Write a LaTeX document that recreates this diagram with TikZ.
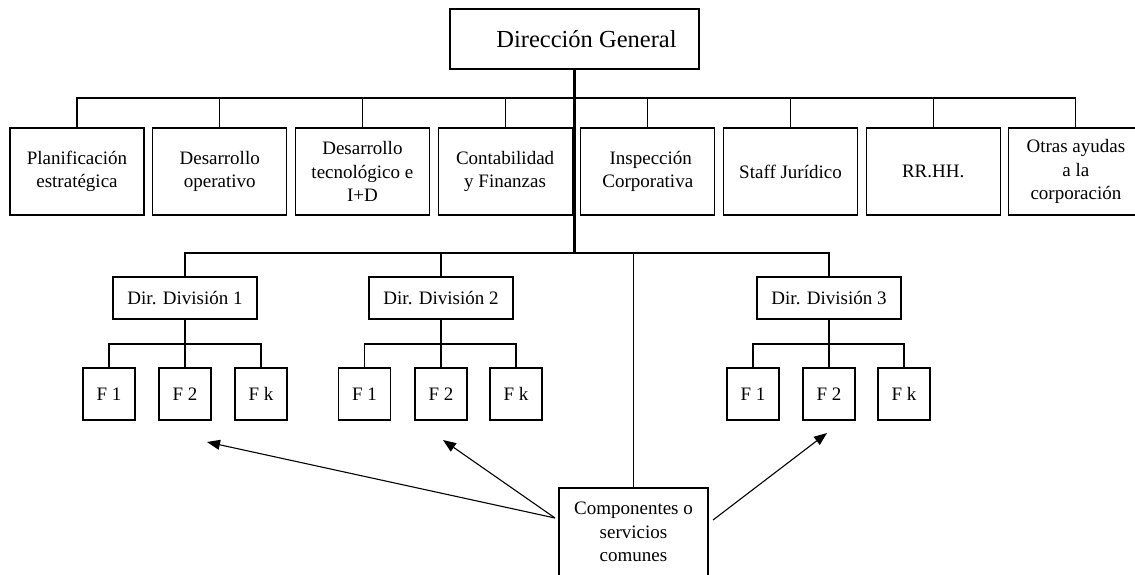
\documentclass[tikz,border=0pt]{standalone}
\usepackage{fontspec}
\setmainfont{Liberation Serif}
\usetikzlibrary{arrows.meta}
\begin{document}
\begin{tikzpicture}[x=1pt,y=-1pt,
  box/.style={draw, line width=1.1pt, inner sep=0pt, align=center, font=\fontsize{19}{23.5}\selectfont},
  topbox/.style={box, minimum width=134pt, minimum height=87pt},
  divbox/.style={box, minimum width=144pt, minimum height=42pt},
  fbox/.style={box, minimum width=52pt, minimum height=52pt},
  conn/.style={line width=1.1pt},
  trunk/.style={line width=2.6pt},
  trunkb/.style={line width=2pt},
  arr/.style={line width=1.1pt, -{Triangle[length=13pt,width=10pt]}}
]
\useasboundingbox (0,0) rectangle (1135,574);
% top box
\node[box, minimum width=249pt, minimum height=60pt, font=\fontsize{24.5}{28}\selectfont] (dg) at (574.5,39) {\hspace*{24pt}Dirección General};
% staff row
\node[topbox] (p1) at (77,171.5) {Planificación\\estratégica};
\node[topbox] (p2) at (219.7,171.5) {Desarrollo\\operativo};
\node[topbox] (p3) at (362.4,171.5) {Desarrollo\\tecnológico e\\I+D};
\node[topbox] (p4) at (505.1,171.5) {Contabilidad\\y Finanzas};
\node[topbox] (p5) at (647.8,171.5) {\hspace*{6pt}Inspección\\Corporativa};
\node[topbox] (p6) at (790.5,171.5) {Staff Jurídico};
\node[topbox] (p7) at (933.2,171.5) {RR.HH.};
\node[topbox] (p8) at (1075.9,171.5) {Otras ayudas\\a la\\corporación};
% divisions
\node[divbox] (d1) at (185,298) {Dir. División 1};
\node[divbox] (d2) at (441,298) {Dir. División 2};
\node[divbox] (d3) at (829,298) {Dir. División 3};
% functions
\node[fbox] (f11) at (109,394) {F 1};
\node[fbox] (f12) at (185,394) {F 2};
\node[fbox] (f13) at (261,394) {F k};
\node[fbox] (f21) at (364.5,394) {F 1};
\node[fbox] (f22) at (441,394) {F 2};
\node[fbox] (f23) at (516,394) {F k};
\node[fbox] (f31) at (753,394) {F 1};
\node[fbox] (f32) at (829,394) {F 2};
\node[fbox] (f33) at (904,394) {F k};
% common services
\node[box, minimum width=149pt, minimum height=88pt] (comp) at (633.5,532) {Componentes o\\servicios\\comunes};
% bus coordinates
\coordinate (bus1) at (574.5,98);
\coordinate (bus2) at (574.5,253);
\coordinate (fb1) at (185,344);
\coordinate (fb2) at (441,344);
\coordinate (fb3) at (829,344);
% top bus
\draw[conn] (p1.north) |- (bus1) -| (p8.north);
\foreach \p in {p2,p3,p4,p5,p6,p7}{\draw[conn] (\p.north) -- (\p.north |- bus1);}
\draw[trunk] (dg.south) -- (bus2);
% division bus
\draw[conn] (d1.north) |- (bus2) -| (d3.north);
\draw[trunkb] (d2.north |- bus2) -- (bus2);
\draw[conn] (d2.north) -- (d2.north |- bus2);
\draw[conn] (comp.north) -- (comp.north |- bus2);
% function buses
\draw[conn] (f11.north) |- (fb1) -| (f13.north);
\draw[conn] (f12.north) -- (fb1);
\draw[trunkb] (d1.south) -- (fb1);
\draw[conn] (f21.north) |- (fb2) -| (f23.north);
\draw[conn] (f22.north) -- (fb2);
\draw[trunkb] (d2.south) -- (fb2);
\draw[conn] (f31.north) |- (fb3) -| (f33.north);
\draw[conn] (f32.north) -- (fb3);
\draw[trunkb] (d3.south) -- (fb3);
% arrows
\coordinate (s1) at (555,518);
\coordinate (s3) at (713,520);
\coordinate (t1) at (207,442);
\coordinate (t2) at (443,440);
\coordinate (t3) at (827,433);
\draw[arr] (s1) -- (t1);
\draw[arr] (s1) -- (t2);
\draw[arr] (s3) -- (t3);
\end{tikzpicture}
\end{document}
